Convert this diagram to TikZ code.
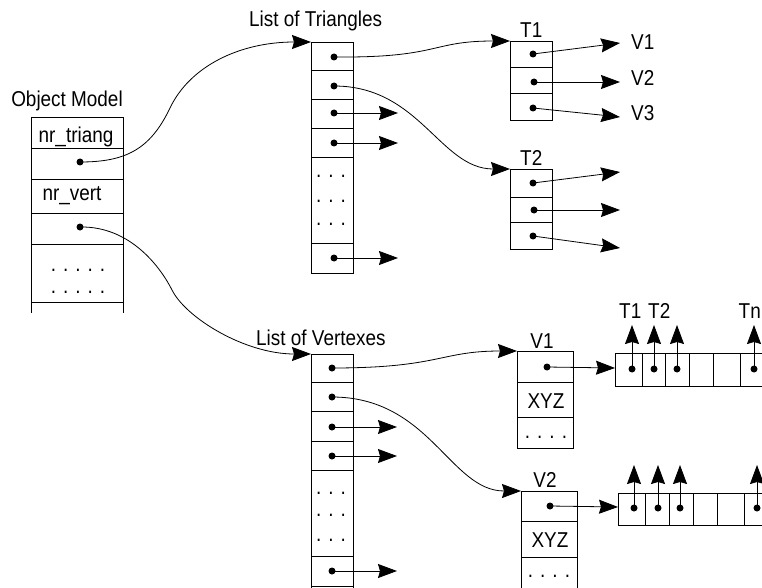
\documentclass[tikz,border=0pt]{standalone}
\usepackage{fontspec}
\setmainfont{Liberation Sans}[FakeStretch=0.88]
\usetikzlibrary{arrows.meta}
\newcommand\lbfont{\fontsize{21.5}{24}\selectfont}
\newcommand\mytdots{.\hskip7pt.\hskip7pt.}
\newcommand\myfdots{.\hskip7pt.\hskip7pt.\hskip7pt.}
\newcommand\myvdots{.\hskip7pt.\hskip7pt.\hskip7pt.\hskip7pt.}
\begin{document}
\begin{tikzpicture}[x=1pt,y=-1pt,
  box/.style={line width=0.8pt},
  ptr/.style={-{Stealth[length=19pt,width=14pt,inset=2pt]}, line width=0.8pt},
  dotp/.style={circle, fill, inner sep=0pt, minimum size=7pt},
  lbl/.style={inner sep=0pt, font=\lbfont, anchor=base},
  lblw/.style={lbl, anchor=base west}]
\useasboundingbox (0,0) rectangle (762,588);
\clip (0,0) rectangle (762,588);

% ---------- Object Model ----------
\node[lbl] (omlabel) at (67,107) {Object Model};
\draw[box] (31,117) -- (31,313) (123,117) -- (123,313);
\foreach \y in {117,148,179,213,244,302} \draw[box] (31,\y) -- (123,\y);
\node[lbl] (omtri) at (76,143) {nr\_triang};
\node[lbl] (omvert) at (72,200) {nr\_vert};
\node[dotp] (om1) at (80,162) {};
\node[dotp] (om2) at (80,227) {};
\node[lbl] (omd1) at (78,271) {\myvdots};
\node[lbl] (omd2) at (78,293) {\myvdots};

% ---------- List of Triangles ----------
\node[lblw] (ltlabel) at (249,27) {List of Triangles};
\draw[box] (311,42) rectangle (353,273);
\coordinate (lt) at (311,42);
\foreach \y in {70,99,128,157,243} \draw[box] (311,\y) -- (354,\y);
\node[dotp] (lt1) at (334,57) {};
\node[dotp] (lt2) at (334,86) {};
\node[dotp] (lt3) at (334,113) {};
\node[dotp] (lt4) at (334,143) {};
\node[dotp] (lt5) at (334,258) {};
\coordinate (lt3e) at (398,113);
\coordinate (lt4e) at (398,143);
\coordinate (lt5e) at (398,258);
\draw[ptr] (lt3.center) -- (lt3e);
\draw[ptr] (lt4.center) -- (lt4e);
\draw[ptr] (lt5.center) -- (lt5e);
\node[lbl] (ltd1) at (331,177) {\mytdots};
\node[lbl] (ltd2) at (331,202) {\mytdots};
\node[lbl] (ltd3) at (331,225) {\mytdots};

% ---------- T1 ----------
\node[lblw] (t1label) at (520,38) {T1};
\draw[box] (510,41) rectangle (552,120);
\coordinate (t1) at (510,41);
\foreach \y in {67,93} \draw[box] (510,\y) -- (552,\y);
\node[dotp] (t1a) at (533,54) {};
\node[dotp] (t1b) at (534,82) {};
\node[dotp] (t1c) at (533,108) {};
\node[lblw] (v1l) at (631,50) {V1};
\node[lblw] (v2l) at (631,86) {V2};
\node[lblw] (v3l) at (631,121) {V3};
\coordinate (v1t) at (620,43);
\coordinate (v2t) at (620,82);
\coordinate (v3t) at (620,117);
\draw[ptr] (t1a.center) -- (v1t);
\draw[ptr] (t1b.center) -- (v2t);
\draw[ptr] (t1c.center) -- (v3t);

% ---------- T2 ----------
\node[lblw] (t2label) at (520,166) {T2};
\draw[box] (510,169) rectangle (552,249);
\coordinate (t2) at (510,169);
\foreach \y in {197,222} \draw[box] (510,\y) -- (552,\y);
\node[dotp] (t2a) at (533,183) {};
\node[dotp] (t2b) at (534,210) {};
\node[dotp] (t2c) at (533,236) {};
\coordinate (t2at) at (620,172);
\coordinate (t2bt) at (620,210);
\coordinate (t2ct) at (620,248);
\draw[ptr] (t2a.center) -- (t2at);
\draw[ptr] (t2b.center) -- (t2bt);
\draw[ptr] (t2c.center) -- (t2ct);

% ---------- List of Vertexes ----------
\node[lblw] (lvlabel) at (256,345) {List of Vertexes};
\draw[box] (311,354) rectangle (353,586);
\draw[box] (311,586) -- (311,588) (353,586) -- (353,588);
\coordinate (lv) at (311,354);
\foreach \y in {382,411,441,470,556} \draw[box] (311,\y) -- (354,\y);
\node[dotp] (lv1) at (332,368) {};
\node[dotp] (lv2) at (332,397) {};
\node[dotp] (lv3) at (332,427) {};
\node[dotp] (lv4) at (332,456) {};
\node[dotp] (lv5) at (332,571) {};
\coordinate (lv3e) at (397,427);
\coordinate (lv4e) at (397,456);
\coordinate (lv5e) at (397,571);
\draw[ptr] (lv3.center) -- (lv3e);
\draw[ptr] (lv4.center) -- (lv4e);
\draw[ptr] (lv5.center) -- (lv5e);
\node[lbl] (lvd1) at (331,494) {\mytdots};
\node[lbl] (lvd2) at (331,516) {\mytdots};
\node[lbl] (lvd3) at (331,541) {\mytdots};

% ---------- V1 ----------
\node[lbl] (vv1label) at (542,348) {V1};
\draw[box] (517,351) rectangle (573,448);
\coordinate (vv1) at (517,351);
\foreach \y in {382,417} \draw[box] (517,\y) -- (573,\y);
\node[dotp] (vv1p) at (547,367) {};
\node[lbl] (vv1x) at (546,408) {XYZ};
\node[lbl] (vv1d) at (546,438) {\myfdots};
% array 1
\draw[box] (762,353) -- (615,353) -- (615,386) -- (762,386);
\foreach \x in {642,665,689,713,740} \draw[box] (\x,353) -- (\x,386);
\coordinate (ar1) at (615,368);
\draw[ptr] (vv1p.center) -- (ar1);
\node[dotp] (a1) at (632,369) {};
\node[dotp] (a2) at (654,369) {};
\node[dotp] (a3) at (677,369) {};
\node[dotp] (a4) at (754,369) {};
\coordinate (a1t) at (632,325);
\coordinate (a2t) at (654,325);
\coordinate (a3t) at (677,325);
\coordinate (a4t) at (754,325);
\draw[ptr] (a1.center) -- (a1t);
\draw[ptr] (a2.center) -- (a2t);
\draw[ptr] (a3.center) -- (a3t);
\draw[ptr] (a4.center) -- (a4t);
\node[lblw] (at1) at (619,318) {T1};
\node[lblw] (at2) at (648,318) {T2};
\node[lbl, anchor=base east] (atn) at (761,318) {Tn};

% ---------- V2 ----------
\node[lbl] (vv2label) at (545,487) {V2};
\draw[box] (521,588) -- (521,491) -- (577,491) -- (577,588);
\coordinate (vv2) at (521,491);
\foreach \y in {521,557} \draw[box] (521,\y) -- (577,\y);
\node[dotp] (vv2p) at (550,506) {};
\node[lbl] (vv2x) at (550,547) {XYZ};
\node[lbl] (vv2d) at (549,577) {\myfdots};
% array 2
\draw[box] (762,493) -- (618,493) -- (618,525) -- (762,525);
\foreach \x in {645,669,693,717,744} \draw[box] (\x,493) -- (\x,525);
\coordinate (ar2) at (618,507);
\draw[ptr] (vv2p.center) -- (ar2);
\node[dotp] (b1) at (634,508) {};
\node[dotp] (b2) at (658,508) {};
\node[dotp] (b3) at (680,508) {};
\node[dotp] (b4) at (757,508) {};
\coordinate (b1t) at (634,465);
\coordinate (b2t) at (658,465);
\coordinate (b3t) at (680,465);
\coordinate (b4t) at (757,465);
\draw[ptr] (b1.center) -- (b1t);
\draw[ptr] (b2.center) -- (b2t);
\draw[ptr] (b3.center) -- (b3t);
\draw[ptr] (b4.center) -- (b4t);

% ---------- curved connectors ----------
\draw[ptr] (om1.center) .. controls (125,162) and (150,150) .. (170,108)
  .. controls (190,66) and (240,42) .. (lt);
\draw[ptr] (om2.center) .. controls (132,226) and (162,270) .. (172,290)
  .. controls (186,318) and (245,354) .. (lv);
\draw[ptr] (lt1.center) .. controls (440,58) and (430,41) .. (t1);
\draw[ptr] (lt2.center) .. controls (420,86) and (440,169) .. (t2);
\draw[ptr] (lv1.center) .. controls (440,368) and (440,351) .. (vv1);
\draw[ptr] (lv2.center) .. controls (430,397) and (450,491) .. (vv2);
\end{tikzpicture}
\end{document}
